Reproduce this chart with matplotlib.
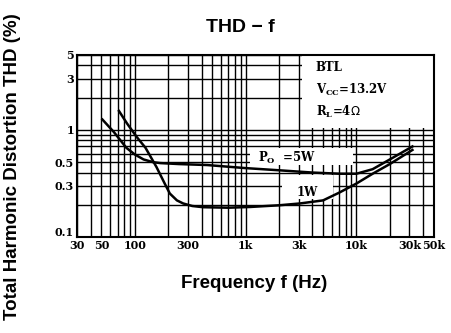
import matplotlib
matplotlib.use("Agg")
import matplotlib.pyplot as plt
import matplotlib.transforms as mtransforms
from matplotlib.patches import Rectangle

# frequency (Hz) / THD (%)
freq_5w = [51, 65, 84, 100, 120, 146, 170, 250, 450, 1000, 2000, 4000, 7000, 10000, 14000, 20000, 32000]
thd_5w = [1.25, 0.95, 0.68, 0.59, 0.53, 0.50, 0.49, 0.48, 0.47, 0.44, 0.42, 0.40, 0.39, 0.39, 0.43, 0.53, 0.70]

freq_1w = [72, 85, 104, 125, 157, 185, 207, 240, 273, 330, 414, 700, 1100, 2000, 3100, 5000, 7000,
           10000, 14000, 20000, 32000]
thd_1w = [1.5, 1.15, 0.86, 0.68, 0.45, 0.32, 0.255, 0.22, 0.206, 0.195, 0.19, 0.188, 0.191, 0.198,
          0.206, 0.22, 0.26, 0.316, 0.39, 0.48, 0.65]

x_ticks = [30, 50, 100, 300, 1000, 3000, 10000, 30000, 50000]
x_labels = ["30", "50", "100", "300", "1k", "3k", "10k", "30k", "50k"]
y_ticks = [0.1, 0.3, 0.5, 1, 3, 5]
y_labels = ["0.1", "0.3", "0.5", "1", "3", "5"]

x_grid = [30, 40, 50, 60, 70, 80, 90, 100, 200, 300, 400, 500, 600, 700, 800, 900, 1000,
          2000, 3000, 4000, 5000, 6000, 7000, 8000, 9000, 10000, 20000, 30000, 40000, 50000]
y_grid = [0.1, 0.2, 0.3, 0.4, 0.5, 0.6, 0.7, 0.8, 0.9, 1, 2, 3, 4, 5]

fig = plt.figure(figsize=(4.52, 3.33), dpi=100)
ax = fig.add_axes([0.170, 0.288, 0.790, 0.547])
ax.set_xscale("log")
ax.set_yscale("log")
ax.set_xlim(30, 50000)
ax.set_ylim(0.1, 5)

# datasheet style grid
for g in x_grid:
    ax.axvline(g, color="black", lw=1.0, zorder=1)
for g in y_grid:
    ax.axhline(g, color="black", lw=1.0, zorder=1)

ax.plot(freq_5w, thd_5w, color="black", lw=1.8, zorder=3)
ax.plot(freq_1w, thd_1w, color="black", lw=1.8, zorder=3)

ax.minorticks_off()
ax.set_xticks(x_ticks)
ax.set_xticklabels(x_labels)
ax.set_yticks(y_ticks)
ax.set_yticklabels(y_labels)
ax.tick_params(length=0, pad=2)
for lbl in ax.get_xticklabels() + ax.get_yticklabels():
    lbl.set_family("DejaVu Serif")
    lbl.set_fontsize(8)
    lbl.set_fontweight("bold")
for sp in ax.spines.values():
    sp.set_linewidth(1.5)
    sp.set_zorder(5)

# lift the "0.1" label a little so it clears the "30" below it
lift = mtransforms.ScaledTranslation(0, 4 / 72, fig.dpi_scale_trans)
first = ax.get_yticklabels()[0]
first.set_transform(first.get_transform() + lift)

serif = dict(family="DejaVu Serif", fontweight="bold")

# condition box (upper right), white patch hides the grid
ax.add_patch(Rectangle((0.630, 0.599), 0.370, 0.401, transform=ax.transAxes,
                       facecolor="white", edgecolor="none", zorder=2))
ax.text(0.669, 0.929, "BTL", transform=ax.transAxes, va="center", fontsize=8.5, zorder=4, **serif)
ax.text(0.669, 0.808, "$\\mathregular{V_{CC}}$=13.2V", transform=ax.transAxes, va="center",
        fontsize=8.5, zorder=4, **serif)
ax.text(0.669, 0.687, "$\\mathregular{R_L}$=4$\\Omega$", transform=ax.transAxes, va="center",
        fontsize=8.5, zorder=4, **serif)

# curve labels on white patches
ax.add_patch(Rectangle((1092, 0.47), 9290 - 1092, 0.676 - 0.47, facecolor="white",
                       edgecolor="none", zorder=2))
ax.text(2356, 0.55, "$\\mathregular{P_O}$  =5W", ha="center", va="center", fontsize=8.5,
        zorder=4, **serif)
ax.add_patch(Rectangle((2125, 0.225), 6130 - 2125, 0.378 - 0.225, facecolor="white",
                       edgecolor="none", zorder=2))
ax.text(3570, 0.262, "1W", ha="center", va="center", fontsize=8.5, zorder=4, **serif)

fig.text(0.531, 0.916, "THD \u2212 f", ha="center", va="center",
         family="Liberation Sans", fontsize=14, fontweight="bold")
fig.text(0.562, 0.15, "Frequency f (Hz)", ha="center", va="center",
         family="Liberation Sans", fontsize=13.5, fontweight="bold")
fig.text(0.027, 0.5, "Total Harmonic Distortion THD (%)", ha="center", va="center",
         rotation=90, family="Liberation Sans", fontsize=13.5, fontweight="bold")

fig.savefig("out.png", dpi=100)
